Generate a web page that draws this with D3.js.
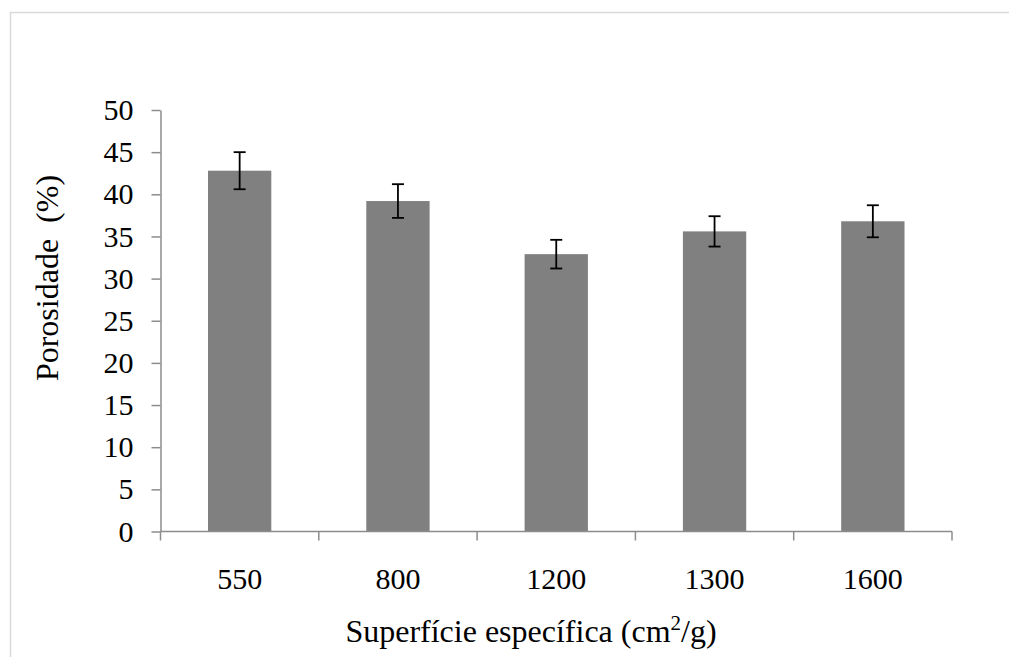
<!DOCTYPE html>
<html>
<head>
<meta charset="utf-8">
<script src="https://cdn.jsdelivr.net/npm/d3@7"></script>
<style>
  html, body { margin: 0; padding: 0; background: #fff; }
  svg { display: block; }
  svg text { font-family: "Liberation Serif", "Times New Roman", serif; }
</style>
</head>
<body>
<svg id="chart" width="1009" height="657"></svg>
<script>
// Specific surface (cm²/g) categories
const categories = ["550", "800", "1200", "1300", "1600"];
// Porosity (%) means
const porosity = [42.8, 39.2, 32.9, 35.6, 36.8];
// Error bar half-widths (%)
const errors = [2.2, 2.0, 1.7, 1.8, 1.9];
// Y tick values
const yTicks = [0, 5, 10, 15, 20, 25, 30, 35, 40, 45, 50];

const svg = d3.select("#chart");
const font = "'Liberation Serif', 'Times New Roman', serif";
const axisColor = "#8c8c8c";

// chart area border
svg.append("rect")
  .attr("x", 10.5).attr("y", 12.5)
  .attr("width", 1020).attr("height", 700)
  .attr("fill", "none").attr("stroke", "#d9d9d9").attr("stroke-width", 1.5);

const plotLeft = 160.5, plotRight = 952, plotTop = 110, plotBottom = 531.5;

const x = d3.scaleBand().domain(categories).range([plotLeft, plotRight])
  .paddingInner(0.6).paddingOuter(0.3);
const y = d3.scaleLinear().domain([0, 50]).range([plotBottom, plotTop]);

// bars
svg.append("g").selectAll("rect").data(categories).join("rect")
  .attr("x", d => x(d))
  .attr("y", (d, i) => y(porosity[i]))
  .attr("width", x.bandwidth())
  .attr("height", (d, i) => y(0) - y(porosity[i]))
  .attr("fill", "#808080");

// error bars
const eb = svg.append("g").attr("stroke", "#000").attr("stroke-width", 1.8);
categories.forEach((c, i) => {
  const cx = x(c) + x.bandwidth() / 2;
  const hi = y(porosity[i] + errors[i]), lo = y(porosity[i] - errors[i]);
  eb.append("line").attr("x1", cx).attr("x2", cx).attr("y1", hi).attr("y2", lo);
  eb.append("line").attr("x1", cx - 6).attr("x2", cx + 6).attr("y1", hi).attr("y2", hi);
  eb.append("line").attr("x1", cx - 6).attr("x2", cx + 6).attr("y1", lo).attr("y2", lo);
});

// y axis
const yAxis = svg.append("g").attr("transform", `translate(${plotLeft},0)`)
  .call(d3.axisLeft(y).tickValues(yTicks).tickSizeInner(9).tickSizeOuter(0).tickPadding(18));
yAxis.attr("font-family", null);
yAxis.select(".domain").attr("stroke", axisColor).attr("stroke-width", 1.5);
yAxis.selectAll(".tick line").attr("stroke", axisColor).attr("stroke-width", 1.5);
yAxis.selectAll(".tick text").style("font-family", font).attr("font-size", 30).attr("fill", "#000");

// x axis with ticks at category boundaries
const xAxisG = svg.append("g").attr("transform", `translate(0,${plotBottom})`);
xAxisG.append("line").attr("x1", plotLeft).attr("x2", plotRight)
  .attr("stroke", axisColor).attr("stroke-width", 1.5);
const bounds = categories.map(c => x(c) - x.step() * x.paddingInner() / 2);
bounds[0] = plotLeft;
bounds.push(plotRight);
xAxisG.selectAll("line.tick").data(bounds).join("line").attr("class", "tick")
  .attr("x1", d => d).attr("x2", d => d).attr("y1", 0).attr("y2", 9)
  .attr("stroke", axisColor).attr("stroke-width", 1.5);
xAxisG.selectAll("text").data(categories).join("text")
  .attr("x", d => x(d) + x.bandwidth() / 2)
  .attr("y", 57)
  .attr("text-anchor", "middle")
  .style("font-family", font).attr("font-size", 30).attr("fill", "#000")
  .text(d => d);

// axis titles
svg.append("text")
  .attr("transform", "translate(58,278) rotate(-90)")
  .attr("text-anchor", "middle")
  .style("font-family", font).attr("font-size", 32).attr("fill", "#000")
  .style("white-space", "pre")
  .text("Porosidade  (%)");

const xt = svg.append("text")
  .attr("x", 531).attr("y", 642)
  .attr("text-anchor", "middle")
  .style("font-family", font).attr("font-size", 32).attr("fill", "#000");
xt.append("tspan").text("Superfície específica (cm");
xt.append("tspan").attr("dy", -12).attr("font-size", 21).text("2");
xt.append("tspan").attr("dy", 12).text("/g)");
</script>
</body>
</html>
